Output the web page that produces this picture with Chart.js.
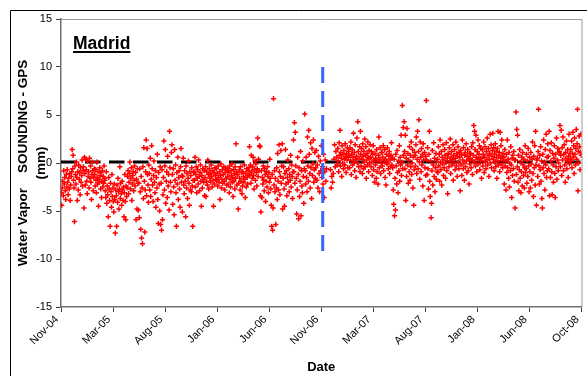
<!DOCTYPE html>
<html lang="en">
<head>
    <meta charset="UTF-8">
    <title>Madrid - Water Vapor Sounding minus GPS</title>
    <script src="https://cdn.jsdelivr.net/npm/chart.js@4"></script>
    <style>
        body { margin: 0; background: #fff; }
        canvas { display: block; }
    </style>
</head>
<body>
    <canvas id="wvChart" width="587" height="376"></canvas>

    <script>
        // x axis tick labels (equally spaced, as in the original sheet)
        const tickLabels = ['Nov-04', 'Mar-05', 'Aug-05', 'Jan-06', 'Jun-06', 'Nov-06',
                            'Mar-07', 'Aug-07', 'Jan-08', 'Jun-08', 'Oct-08'];

        // months of observations
        const months = ['2004-11', '2004-12', '2005-01', '2005-02', '2005-03', '2005-04', '2005-05', '2005-06',
                        '2005-07', '2005-08', '2005-09', '2005-10', '2005-11', '2005-12', '2006-01', '2006-02',
                        '2006-03', '2006-04', '2006-05', '2006-06', '2006-07', '2006-08', '2006-09', '2006-10',
                        '2006-11', '2006-12', '2007-01', '2007-02', '2007-03', '2007-04', '2007-05', '2007-06',
                        '2007-07', '2007-08', '2007-09', '2007-10', '2007-11', '2007-12', '2008-01', '2008-02',
                        '2008-03', '2008-04', '2008-05', '2008-06', '2008-07', '2008-08', '2008-09'];

        // sounding - GPS differences (mm), in time order within each month, null = no obs
        const diffs = [
            [-3.1,-4.4,-2.6,-1.9,-3.4,-0.8,-2.2,-1.5,-2.9,-3.8,-1.2,-2.5,-0.7,-2.0,-3.3,-1.6,-2.7,-1.1,-3.9,-2.3,-1.4,-0.9],
            [1.4,-0.6,0.8,-1.8,-2.6,-6.1,-0.3,-1.2,-2.2,0.1,-1.5,-3.9,-0.9,-2.8,-0.2,-1.7,-1.0,-3.3,-0.5,-2.0,-1.3,0.3,-2.4,-0.8],
            [-0.4,-4.7,0.6,-1.1,-2.3,0.4,-0.7,-1.9,-3.2,0.2,-1.4,-0.9,-2.6,0.5,-1.6,-0.3,-2.0,-3.8,-1.2,0.1,-0.8,-2.9,-1.5,-0.6],
            [-1.2,-2.4,-0.7,-1.8,-3.1,0.1,-1.5,-2.2,-0.9,-4.5,-1.7,-2.0,-0.5,-1.3,-2.7,-1.0,-3.6,-1.9,-0.8,-2.5,-1.4,-2.1,-0.3,-1.6],
            [-1.8,-2.9,-3.6,-0.9,-4.2,-2.4,-3.3,-5.6,-1.5,-2.7,-3.9,-6.6,-2.1,-3.0,-4.6,-1.2,-3.5,-2.6,-4.0,-5.1,-2.2,-3.8,-7.3,-2.8],
            [-3.4,-6.6,-2.3,-4.1,-1.6,-3.0,-4.8,-2.7,-0.4,-3.7,-2.1,-3.2,-4.4,-1.9,-2.8,-3.9,-2.5,-5.6,-3.1,-1.2,-4.0,-5.9,-2.4,-3.5],
            [-2.6,-1.4,-0.8,-3.2,-2.0,-1.1,0.1,-2.7,-1.6,-0.5,-3.9,-2.2,-1.3,-0.9,-2.9,-1.8,-0.3,-2.4,-1.0,-5.9,-1.7,-4.8,-0.6,-2.1],
            [-4.9,-2.1,-5.7,-0.6,-3.0,-6.9,-1.4,-7.8,-2.6,-8.4,-0.4,-3.7,1.6,-1.9,-7.2,-2.8,-0.9,2.4,-3.4,1.5,-1.2,-2.3,-4.1,-0.2],
            [-1.1,-2.8,0.5,-3.5,-1.7,1.8,-0.6,-2.3,-4.0,-1.3,0.2,-2.0,-3.1,-0.8,-4.6,-1.5,-2.6,0.9,-3.8,-6.3,-1.0,-2.2,-5.0,-0.4],
            [-6.4,-2.1,-7.0,-0.7,-5.9,-3.3,-1.5,2.3,-2.8,-0.3,1.4,-4.2,-1.9,-0.9,-3.6,0.7,-2.4,-1.2,-4.9,3.3,-0.5,-2.0,-3.0,1.1],
            [1.9,-1.2,-4.3,-0.6,-2.5,-5.4,1.4,-1.8,-0.2,-3.1,-6.6,-1.0,-2.2,0.6,-3.8,-1.5,-0.8,-2.7,-4.6,-0.4,1.5,-2.0,-1.3,-5.1],
            [-1.4,0.5,-2.3,-3.2,-0.8,-1.9,-5.6,-0.3,-2.6,-1.1,-3.7,-1.6,0.2,-2.1,-4.4,-0.9,-2.8,-1.3,-3.0,-0.5,-2.4,-6.6,-1.8,-1.0],
            [-0.9,-1.8,0.6,-2.5,-1.2,-0.4,-3.1,-1.6,-0.7,-2.2,0.3,-1.4,-2.9,-1.0,-0.2,-1.9,-4.5,-1.3,-2.6,-0.6,-1.7,-2.0,-0.8,-3.4],
            [-1.5,-0.4,-3.5,-1.9,-0.9,-2.3,0.3,-1.2,-2.7,-0.6,-1.6,-1.1,-2.0,-0.2,-1.4,-2.5,-0.8,-1.8,-4.5,-1.0,-2.2,-0.5,-1.3,-1.7],
            [-0.6,-1.8,-1.1,-2.4,-0.3,-1.5,-2.0,-0.9,-3.8,-1.3,-0.1,-2.6,-1.7,-0.7,-2.1,-1.2,-0.4,-1.9,-2.8,-1.0,-0.5,-1.6,-2.3,-0.8],
            [-1.4,-0.6,-2.2,-1.0,-3.1,-0.3,-1.7,-2.5,-0.8,-1.3,-0.1,-2.0,-1.5,-3.5,-0.7,-1.9,-1.1,-2.7,-0.4,-1.6,2.0,-0.9,-2.3,-1.2],
            [-1.2,-4.8,-2.1,-0.7,-1.6,-2.8,-0.4,-1.9,-1.0,-3.2,-2.4,-0.9,-1.4,-2.0,-0.2,-1.7,-3.6,-1.1,-2.5,-0.6,-1.5,-2.2,-0.8,-1.3],
            [-0.5,1.7,-1.2,-0.2,-2.1,0.8,-0.9,-1.6,-0.4,0.6,-1.3,-2.7,-0.7,0.2,-1.8,-0.1,-1.0,-2.4,-0.6,2.6,-1.4,0.4,-0.8,1.8],
            [1.7,-3.4,-5.1,-0.8,-3.6,-1.5,-2.2,-0.3,-1.8,-2.9,-0.6,-1.2,-4.0,-1.9,-0.9,-2.5,-0.4,-1.4,-3.1,-1.0,-2.0,0.4,-1.6,-2.7],
            [-4.4,-6.6,-1.2,-7.0,-4.7,6.7,-2.3,-0.8,-3.0,-1.6,-6.4,-2.6,-0.5,-3.8,1.0,-1.9,-2.8,1.9,-0.9,-3.3,-1.4,1.3,-2.1,-0.3],
            [2.0,-4.8,-1.6,-0.4,-2.7,-4.5,-1.1,1.4,-2.2,-0.8,-3.4,-1.5,0.3,-2.0,-0.6,-3.0,-1.2,-1.8,0.8,-2.5,-0.2,-1.4,-3.7,-0.9],
            [2.4,-0.9,4.2,-2.1,3.2,-0.3,-1.6,-5.3,-2.8,0.6,-1.2,-5.8,-0.5,-3.5,-1.9,1.2,-5.5,-0.8,-2.4,-3.1,0.2,-1.4,-4.2,-0.6],
            [5.1,-0.8,-2.2,0.6,-1.5,-3.0,2.7,-0.3,-1.9,3.4,0.9,-1.1,-2.6,2.1,-0.5,-3.7,1.5,-1.3,-0.1,2.4,-2.0,-0.7,1.1,-1.6],
            [-0.5,1.3,-1.8,-0.2,-2.6,0.7,-1.1,-3.0,0.2,-0.8,1.8,-1.5,-0.4,-2.2,0.9,-3.6,-0.9,0.3,-1.9,-0.6],
            [null,null,null,null,null,-0.7,-2.6,-1.4,-2.0,-1.1,0.4,1.9,-0.4,1.2,0.6,-0.2],
            [1.5,0.2,-0.9,2.1,0.8,3.4,-0.3,1.1,0.5,-1.4,1.8,0.0,0.9,-0.6,1.3,0.4,-0.2,2.0,0.7,-1.0,1.0,0.3,1.6,-0.5,0.6,1.2],
            [0.8,-0.5,1.6,0.3,2.2,-1.2,0.9,1.4,-0.2,0.6,3.1,0.1,1.1,-0.8,1.9,0.4,-1.5,0.7,2.6,0.0,4.3,1.2,-0.4,0.5,1.7,-0.9],
            [3.3,0.9,-0.3,1.5,0.4,-1.1,2.0,0.7,-0.6,1.2,0.1,2.5,-0.4,0.8,1.7,-1.6,0.3,1.0,-0.2,2.2,0.6,-0.9,1.3,0.0,0.5,1.9],
            [0.6,-0.4,1.2,0.1,-1.3,0.9,1.8,-0.7,0.3,-2.0,1.0,-0.2,0.5,-1.6,1.4,-0.9,0.2,-2.2,0.8,2.7,-0.5,0.4,1.6,-1.1,0.0,1.1],
            [1.1,-0.3,0.6,1.8,-0.8,0.2,1.4,-1.5,0.4,-2.3,0.9,-0.1,1.6,0.0,-0.6,0.7,1.2,-1.1,0.3,-0.4,0.8,2.1,-0.2,0.5],
            [-0.5,-2.8,-4.3,0.4,-5.5,-1.6,-4.9,0.9,-0.3,-2.2,1.3,-1.0,-3.1,0.2,-0.8,1.8,-1.9,0.6,-0.2,2.9,-1.3,0.1,6.0,-0.6,3.7,0.8],
            [4.3,1.2,-0.6,2.9,-3.9,0.5,-1.4,3.6,-0.2,1.0,-2.1,0.3,-0.9,1.7,-1.8,0.8,-0.4,2.2,-1.2,0.0,1.4,-2.6,0.6,-4.4,-0.7,1.1],
            [0.8,-0.3,1.9,2.7,-1.1,0.4,3.3,-0.6,1.2,4.5,0.1,-1.7,2.2,0.6,-0.9,1.5,-0.2,0.9,-2.4,2.0,0.3,-3.9,1.1,-0.5,0.7,-1.3],
            [6.5,0.3,-1.2,1.6,-0.6,-2.7,0.9,3.3,-1.9,-3.5,0.2,-5.7,-4.2,-0.8,1.3,-2.3,-0.2,2.1,-1.4,0.5,-3.0,-0.5,1.0,-1.7,0.1,-0.9],
            [0.4,-1.0,1.7,-0.3,0.9,-1.9,2.4,0.1,-0.7,1.2,-2.3,0.6,-0.1,1.9,-1.3,0.3,-0.5,1.4,0.8,-1.6,0.0,2.1,-0.8,0.5,-3.2,1.0],
            [0.9,-0.4,1.6,0.2,2.5,-1.1,0.6,1.2,-0.2,0.4,1.9,-1.8,0.8,0.0,1.4,-0.7,0.5,2.2,-0.3,1.0,-1.4,0.7,1.7,0.1,-0.6,1.1],
            [0.6,-2.9,1.3,-0.2,0.9,-1.3,2.4,0.3,-0.6,1.6,0.0,-1.8,0.8,1.1,-0.4,2.0,0.2,-1.0,0.7,1.4,-0.8,0.4,-2.2,1.0,-0.1,0.5],
            [1.0,-0.5,1.7,0.3,-1.2,2.1,0.8,3.9,0.1,3.3,1.4,-0.3,2.9,0.6,-0.9,1.2,0.4,2.4,-0.1,0.9,1.8,-0.7,0.5,1.5,0.2,-1.6],
            [0.5,1.4,-0.3,0.9,2.2,-1.0,0.6,1.7,0.1,-0.6,1.2,0.3,2.6,-0.2,0.8,1.5,-1.4,0.4,1.0,3.0,0.0,1.9,-0.5,0.7,1.3,3.1],
            [0.4,1.6,-0.8,0.9,0.1,2.0,-0.4,1.2,0.6,-1.6,1.5,0.2,3.3,-0.2,0.8,1.1,-0.9,3.2,0.5,1.8,-0.1,2.4,0.7,-0.5,1.0,0.3],
            [0.6,-2.2,1.4,-0.3,0.2,-2.8,0.9,-1.0,2.4,-0.5,0.4,-1.6,1.1,-2.5,0.0,-0.8,1.7,-0.2,-3.6,0.5,-1.3,0.8,-0.6,1.2,-1.9,0.3],
            [-4.7,0.3,5.3,-1.2,3.5,-0.4,2.9,-2.0,0.8,-2.9,-0.7,1.4,-1.6,0.1,-3.1,-0.9,0.6,-2.4,1.1,-0.2,-1.3,0.4,-2.6,-0.5,1.8,-1.0],
            [-0.6,0.9,-2.1,0.2,-1.4,1.5,-0.3,-3.0,0.6,-0.9,-2.6,1.1,-0.1,-1.8,0.4,2.2,-1.1,-3.5,0.7,-0.5,1.8,-2.3,3.3,-0.2,-4.4,0.3],
            [0.5,-1.4,1.2,5.6,-0.3,-2.2,0.8,-0.7,1.7,-1.9,0.2,-3.7,-4.7,0.9,-0.5,2.4,-1.1,0.1,-2.8,1.4,-0.2,3.0,-1.5,0.6,-0.8,2.0],
            [0.7,-0.6,3.3,-3.4,1.3,-1.5,0.2,2.1,-0.9,-3.3,1.0,-0.2,-2.0,0.5,1.8,-1.1,-3.6,0.9,-0.4,2.6,-1.7,0.3,1.5,-0.8,0.0,1.1],
            [1.2,3.9,-0.4,0.8,3.4,-1.3,1.6,0.3,2.7,-0.8,0.9,1.9,-0.2,-2.0,1.1,0.5,2.3,-0.6,0.2,1.4,-1.5,0.7,3.0,-0.1,1.0,0.4],
            [1.4,0.2,2.3,-0.5,1.0,3.2,0.6,1.8,-1.1,2.6,0.9,-0.2,1.5,3.5,0.4,2.0,5.6,-2.9,1.2,0.0,2.8,1.7,-0.7,1.1,3.0,0.8]
        ];

        const meanLevel = 0.1;          // dashed black reference line
        const breakDate = '2006-10-21'; // dashed blue line (equipment change)
        const breakRange = [10, -9.2];

        const DAY = 86400000;
        const origin = Date.UTC(2004, 10, 1);
        const axisDays = 1430;
        const tickStep = 143;

        function toDays(t) { return (t - origin) / DAY; }

        function buildPoints() {
            const pts = [];
            months.forEach((key, i) => {
                const [y, m] = key.split('-').map(Number);
                const start = Date.UTC(y, m - 1, 1);
                const end = Date.UTC(y, m, 1);
                const len = (end - start) / DAY;
                const vals = diffs[i];
                vals.forEach((v, k) => {
                    if (v === null) return;
                    pts.push({ x: toDays(start) + (k + 0.5) * len / vals.length, y: v });
                });
            });
            return pts;
        }

        const breakDay = toDays(Date.parse(breakDate + 'T00:00:00Z'));

        const frame = {
            id: 'frame',
            beforeDraw(chart) {
                const { ctx, chartArea: a } = chart;
                ctx.save();
                ctx.strokeStyle = '#000';
                ctx.lineWidth = 1;
                ctx.beginPath();
                ctx.moveTo(10.5, 376);
                ctx.lineTo(10.5, 10.5);
                ctx.lineTo(587, 10.5);
                ctx.stroke();
                ctx.strokeStyle = '#9a9a9a';
                ctx.beginPath();
                ctx.moveTo(a.left, a.top + 0.5);
                ctx.lineTo(a.right + 0.5, a.top + 0.5);
                ctx.lineTo(a.right + 0.5, a.bottom);
                ctx.stroke();
                ctx.restore();
            },
            afterDraw(chart) {
                const { ctx } = chart;
                ctx.save();
                ctx.font = 'bold 17.5px "Liberation Sans", Arial, sans-serif';
                ctx.fillStyle = '#000';
                ctx.textBaseline = 'alphabetic';
                ctx.fillText('Madrid', 73, 48.5);
                const w = ctx.measureText('Madrid').width;
                ctx.fillRect(73, 51, w, 2);
                ctx.restore();
            }
        };

        const ctx = document.getElementById('wvChart').getContext('2d');
        new Chart(ctx, {
            type: 'scatter',
            data: {
                datasets: [
                    {
                        label: 'break',
                        type: 'line',
                        data: [{ x: breakDay, y: breakRange[0] }, { x: breakDay, y: breakRange[1] }],
                        borderColor: '#3366ff',
                        borderWidth: 3,
                        borderDash: [16, 8],
                        pointRadius: 0,
                        order: 0
                    },
                    {
                        label: 'Sounding - GPS',
                        data: buildPoints(),
                        pointStyle: 'cross',
                        pointRadius: 2.6,
                        borderColor: '#ff0000',
                        backgroundColor: '#ff0000',
                        borderWidth: 1.5,
                        order: 1
                    },
                    {
                        label: 'mean',
                        type: 'line',
                        data: [{ x: 0, y: meanLevel }, { x: axisDays, y: meanLevel }],
                        borderColor: '#000',
                        borderWidth: 3,
                        borderDash: [15.5, 8.5],
                        pointRadius: 0,
                        order: 2
                    }
                ]
            },
            options: {
                responsive: false,
                animation: false,
                devicePixelRatio: 1,
                layout: { padding: { left: 10, top: 19, right: 1, bottom: 0 } },
                plugins: { legend: { display: false }, tooltip: { enabled: false } },
                scales: {
                    x: {
                        type: 'linear',
                        min: 0,
                        max: axisDays,
                        afterFit: s => { s.height = 69; s.paddingLeft = 0; s.paddingRight = 0; },
                        ticks: {
                            stepSize: tickStep,
                            autoSkip: false,
                            minRotation: 45,
                            maxRotation: 45,
                            padding: 1,
                            labelOffset: -4,
                            color: '#000',
                            font: { family: '"Liberation Sans", Arial, sans-serif', size: 11 },
                            callback: v => tickLabels[Math.round(v / tickStep)]
                        },
                        grid: { drawOnChartArea: false, drawTicks: true, tickLength: 5, color: '#404040' },
                        border: { color: '#707070', width: 1.5 },
                        title: {
                            display: true,
                            text: 'Date',
                            color: '#000',
                            font: { family: '"Liberation Sans", Arial, sans-serif', size: 13, weight: 'bold' },
                            padding: { top: 0, bottom: 1 }
                        }
                    },
                    y: {
                        min: -15,
                        max: 15,
                        afterFit: s => { s.width = 51; },
                        ticks: {
                            stepSize: 5,
                            padding: 4,
                            color: '#000',
                            font: { family: '"Liberation Sans", Arial, sans-serif', size: 11 }
                        },
                        grid: { drawOnChartArea: false, drawTicks: true, tickLength: 5, color: '#404040' },
                        border: { color: '#707070', width: 1.5 },
                        title: {
                            display: true,
                            text: ['Water Vapor    SOUNDING - GPS', '(mm)'],
                            color: '#000',
                            font: { family: '"Liberation Sans", Arial, sans-serif', size: 13.5, weight: 'bold', lineHeight: 1.3 },
                            padding: { top: 5, bottom: 0 }
                        }
                    }
                }
            },
            plugins: [frame]
        });
    </script>
</body>
</html>
